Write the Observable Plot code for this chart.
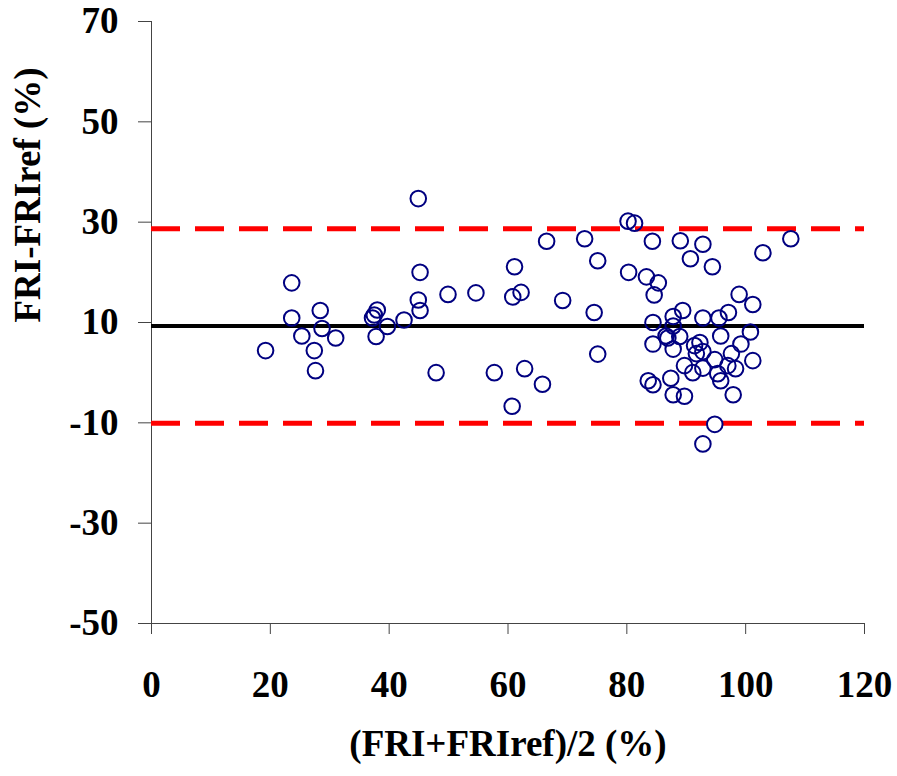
<!DOCTYPE html>
<html><head><meta charset="utf-8">
<script src="https://cdn.jsdelivr.net/npm/d3@7"></script>
<script src="https://cdn.jsdelivr.net/npm/@observablehq/plot@0.6"></script>
<style>body{margin:0;background:#fff}</style>
</head><body><div id="chart"></div>
<script>
const meanValues = [19.2,23.6,23.6,25.3,27.4,27.6,28.4,28.7,31.0,37.2,37.5,38.0,37.8,39.7,42.5,44.9,45.2,44.9,45.2,47.9,
  49.9,54.6,57.7,60.8,61.1,62.2,62.8,60.7,65.8,66.5,69.2,72.9,74.5,75.1,75.1,80.2,81.3,80.3,83.3,84.3,
  84.6,85.3,84.4,84.4,83.6,84.4,86.6,86.9,87.8,87.8,87.8,87.4,87.8,88.9,89.0,89.4,89.7,89.7,90.7,91.4,
  92.3,91.7,92.8,91.1,92.8,92.8,92.8,92.8,94.4,94.8,94.8,95.5,95.8,95.3,95.8,97.1,97.6,97.0,98.3,97.9,
  98.9,99.2,100.8,101.2,101.2,102.9,107.6];
const diffValues = [4.4,17.9,10.9,7.3,4.4,0.4,12.4,8.8,6.9,10.9,11.5,12.5,7.2,9.2,10.5,34.7,20.0,14.5,12.4,0.0,
  15.6,15.9,0.0,15.1,21.1,16.0,0.8,-6.7,-2.3,26.2,14.4,26.7,12.0,22.3,3.7,30.2,29.8,20.0,19.1,26.2,
  15.5,17.9,10.0,5.7,-1.6,-2.4,7.3,6.9,11.2,9.3,4.7,-1.1,-4.4,7.2,26.3,12.4,1.4,-4.7,22.7,5.4,
  6.0,3.8,4.2,0.0,0.9,25.6,10.9,-14.2,21.1,2.6,-10.3,10.9,7.3,-0.2,-1.6,12.0,3.8,1.4,0.8,-4.4,
  15.6,5.7,8.1,13.6,2.4,23.9,26.7];
const xTicks = [0,20,40,60,80,100,120];
const yTicks = [-50,-30,-10,10,30,50,70];
const biasLine = [9.3];
const limitLines = [28.7,-10.1];
const xLabel = "(FRI+FRIref)/2 (%)";
const yLabel = "FRI-FRIref (%)";

const points = meanValues.map((m,i)=>({mean:m, diff:diffValues[i]}));
const font = "'Liberation Serif', 'Times New Roman', serif";

const chart = Plot.plot({
  width: 897, height: 776,
  marginLeft: 151, marginRight: 33, marginTop: 21, marginBottom: 153,
  style: {fontFamily: font, fontWeight: "bold", background: "#fff", color: "#000"},
  x: {domain: [0,120]},
  y: {domain: [-50,70]},
  marks: [
    Plot.ruleX([0], {stroke: "#444", strokeWidth: 1}),
    Plot.ruleY([-50], {stroke: "#444", strokeWidth: 1}),
    Plot.axisX({ticks: xTicks, tickFormat: d => String(d), tickSize: 11, tickPadding: 36, fontSize: 37, fontWeight: "bold", label: null, stroke: "#444", fill: "#000"}),
    Plot.axisY({ticks: yTicks, tickFormat: d => String(d), tickSize: 13, tickPadding: 20, fontSize: 37, fontWeight: "bold", label: null, stroke: "#444", fill: "#000"}),
    Plot.ruleY(limitLines, {stroke: "#ff0000", strokeWidth: 5, strokeDasharray: "29,15"}),
    Plot.ruleY(biasLine, {stroke: "#000", strokeWidth: 4}),
    Plot.dot(points, {x: "mean", y: "diff", r: 7.8, stroke: "#000080", strokeWidth: 2, fill: "none"}),
    Plot.text([yLabel], {text: d => d, frameAnchor: "left", dx: -123, rotate: -90, fontSize: 37, fontWeight: "bold", fill: "#000"}),
    Plot.text([xLabel], {text: d => d, frameAnchor: "bottom", dy: 132, fontSize: 37, fontWeight: "bold", fill: "#000"})
  ]
});
document.getElementById("chart").appendChild(chart);
</script>
</body></html>
